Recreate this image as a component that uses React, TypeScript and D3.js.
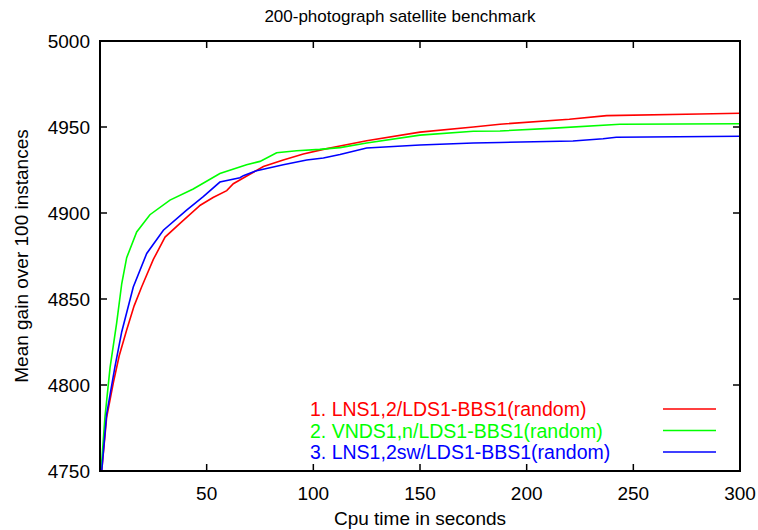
import * as d3 from 'd3';

// values: [cpu seconds, mean gain]
const lns12: [number, number][] = [
    [0.8, 4750], [3.1, 4781], [6.2, 4801], [9, 4817], [12.5, 4832], [16, 4846], [19.5, 4857],
    [25, 4873], [30.5, 4886], [37.5, 4894], [47, 4904.5], [53, 4909], [59.4, 4913], [62.5, 4917],
    [68.8, 4921.5], [76.6, 4927], [85.9, 4930.8], [95.3, 4934.3], [104.7, 4937], [112.5, 4939],
    [125, 4942], [150, 4947], [175, 4950], [187.5, 4951.6], [220, 4954.5], [237.5, 4956.6],
    [281, 4957.6], [300, 4958],
];
const vnds: [number, number][] = [
    [0.5, 4750], [2.3, 4781], [4.7, 4810], [7.8, 4836], [10.2, 4859], [12.5, 4874], [17.2, 4889],
    [23.4, 4899], [32.8, 4907.5], [43.7, 4914], [56.2, 4923], [68.7, 4928], [75, 4930],
    [82.8, 4935], [92.2, 4936.2], [103, 4937], [112.5, 4938], [125, 4940.7], [150, 4945.3],
    [175, 4947.5], [187.5, 4947.7], [211, 4949.2], [243.7, 4951.6], [300, 4951.9],
];
const lns12sw: [number, number][] = [
    [0.8, 4750], [3.1, 4783], [7, 4810.6], [10.2, 4831], [15.6, 4857], [21.9, 4876.5],
    [29.7, 4890], [40.6, 4901.7], [48.4, 4909.5], [56.2, 4918], [65.6, 4920.5], [67.2, 4921.7],
    [73.4, 4924.6], [85.9, 4928], [96.9, 4930.8], [104.7, 4932], [112.5, 4934], [125, 4937.8],
    [150, 4939.5], [175, 4940.7], [187.5, 4941], [221.7, 4941.9], [235.8, 4943.2], [242, 4944],
    [300, 4944.6],
];

const seriesNames = [
    '1. LNS1,2/LDS1-BBS1(random)',
    '2. VNDS1,n/LDS1-BBS1(random)',
    '3. LNS1,2sw/LDS1-BBS1(random)',
];
const seriesColors = ['#ff0000', '#00ff00', '#0000ff'];
const seriesData = [lns12, vnds, lns12sw];

const xTicks = [50, 100, 150, 200, 250, 300];
const yTicks = [4750, 4800, 4850, 4900, 4950, 5000];

export default function App() {
    const width = 758;
    const height = 530;
    const margin = { t: 41, r: 18, b: 59, l: 100 };
    const tickLen = 7;
    const font = '"Liberation Sans", Arial, sans-serif';

    const x = d3.scaleLinear().domain([0, 300]).range([margin.l, width - margin.r]);
    const y = d3.scaleLinear().domain([4750, 5000]).range([height - margin.b, margin.t]);

    const line = d3.line<[number, number]>()
        .x(d => x(d[0]))
        .y(d => y(d[1]));

    const x0 = x.range()[0], x1 = x.range()[1];
    const y0 = y.range()[0], y1 = y.range()[1];

    return (
        <div style={{ position: 'fixed', left: 0, top: 0 }}>
            <svg width={width} height={height} style={{ display: 'block', background: '#fff' }}>
                <defs>
                    <clipPath id="plot">
                        <rect x={x0} y={y1} width={x1 - x0} height={y0 - y1} />
                    </clipPath>
                </defs>

                <text x={400} y={22} textAnchor="middle" fontFamily={font} fontSize="17">
                    200-photograph satellite benchmark
                </text>

                {yTicks.map(t => (
                    <g key={t}>
                        <line x1={x0} x2={x0 + tickLen} y1={y(t)} y2={y(t)} stroke="black" strokeWidth={1.5} />
                        <line x1={x1} x2={x1 - tickLen} y1={y(t)} y2={y(t)} stroke="black" strokeWidth={1.5} />
                        <text x={x0 - 10} y={y(t) + 7} textAnchor="end" fontFamily={font} fontSize="19">{t}</text>
                    </g>
                ))}
                {xTicks.map(t => (
                    <g key={t}>
                        <line x1={x(t)} x2={x(t)} y1={y0} y2={y0 - tickLen} stroke="black" strokeWidth={1.5} />
                        <line x1={x(t)} x2={x(t)} y1={y1} y2={y1 + tickLen} stroke="black" strokeWidth={1.5} />
                        <text x={x(t)} y={y0 + 29} textAnchor="middle" fontFamily={font} fontSize="19">{t}</text>
                    </g>
                ))}

                <text x={420} y={525} textAnchor="middle" fontFamily={font} fontSize="19">Cpu time in seconds</text>
                <text transform={`translate(28, ${(y0 + y1) / 2}) rotate(-90)`} textAnchor="middle" fontFamily={font} fontSize="19">
                    Mean gain over 100 instances
                </text>

                <g clipPath="url(#plot)">
                    {seriesData.map((d, i) => (
                        <path key={i} d={line(d) ?? ''} fill="none" stroke={seriesColors[i]} strokeWidth={1.6} />
                    ))}
                </g>

                {seriesNames.map((name, i) => (
                    <g key={name}>
                        <text x={310} y={416 + i * 21.5} fontFamily={font} fontSize="19.5" fill={seriesColors[i]}>{name}</text>
                        <line x1={663} x2={716} y1={409 + i * 21.5} y2={409 + i * 21.5} stroke={seriesColors[i]} strokeWidth={1.6} />
                    </g>
                ))}

                <rect x={x0} y={y1} width={x1 - x0} height={y0 - y1} fill="none" stroke="black" strokeWidth={2} />
            </svg>
        </div>
    );
}
